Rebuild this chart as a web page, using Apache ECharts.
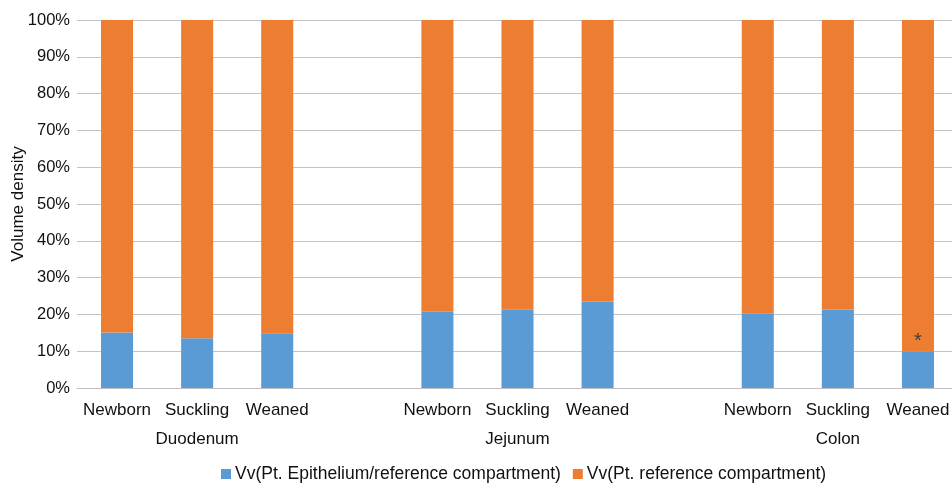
<!DOCTYPE html>
<html>
<head>
<meta charset="utf-8">
<script src="https://cdn.jsdelivr.net/npm/echarts@6/dist/echarts.min.js"></script>
<style>html,body{margin:0;padding:0;background:#fff}#c{width:952px;height:486px}</style>
</head>
<body>
<div id="c"></div>
<script>
var stages = ['Newborn', 'Suckling', 'Weaned'];
var groups = ['Duodenum', 'Jejunum', 'Colon'];
var epithelium = [15.1, 13.5, 14.9, 20.7, 21.4, 23.5, 20.3, 21.3, 10.0];
var reference = [84.9, 86.5, 85.1, 79.3, 78.6, 76.5, 79.7, 78.7, 90.0];
var marks = ['', '', '', '', '', '', '', '', '*'];
var seriesNames = ['Vv(Pt. Epithelium/reference compartment)', 'Vv(Pt. reference compartment)'];
var yTicks = [0, 10, 20, 30, 40, 50, 60, 70, 80, 90, 100];

// build slotted categories with a blank slot between groups
var cats = [], groupCats = [], epi = [], ref = [], mk = [];
groups.forEach(function (g, gi) {
  if (gi > 0) { cats.push(' ' + gi); groupCats.push(' ' + gi); epi.push('-'); ref.push('-'); mk.push(''); }
  stages.forEach(function (s, si) {
    var k = gi * stages.length + si;
    cats.push(s + '#' + gi);
    groupCats.push(si === 1 ? g : '#' + k);
    epi.push(epithelium[k]); ref.push(reference[k]); mk.push(marks[k]);
  });
});

var font = 'Liberation Sans, Arial, sans-serif';
var chart = echarts.init(document.getElementById('c'));
chart.setOption({
  animation: false,
  color: ['#5B9BD5', '#ED7D31'],
  textStyle: { fontFamily: font },
  grid: { left: 77, right: -6, top: 20, bottom: 98, containLabel: false, outerBoundsMode: 'none' },
  legend: {
    top: 460, left: 216, icon: 'rect', itemWidth: 10, itemHeight: 10, itemGap: 12,
    textStyle: { fontSize: 17.5, color: '#111', fontFamily: font, padding: [0, 0, 0, -1] },
    data: seriesNames
  },
  xAxis: [{
    type: 'category', data: cats, position: 'bottom',
    axisLine: { show: true, lineStyle: { color: '#bfbfbf', width: 1 } },
    axisTick: { show: false },
    axisLabel: { interval: 0, margin: 14, fontSize: 17, color: '#111', fontFamily: font,
      formatter: function (v) { return v.indexOf('#') >= 0 ? v.split('#')[0] : ''; } }
  }, {
    type: 'category', data: groupCats, position: 'bottom', offset: 29,
    axisLine: { show: false }, axisTick: { show: false },
    axisLabel: { interval: 0, margin: 14, fontSize: 17, color: '#111', fontFamily: font,
      formatter: function (v) { return (v.charAt(0) === '#' || v.charAt(0) === ' ') ? '' : v; } }
  }],
  yAxis: {
    type: 'value', min: yTicks[0], max: yTicks[yTicks.length - 1], interval: 10,
    name: 'Volume density', nameLocation: 'middle', nameRotate: 90, nameGap: 50, nameMoveOverlap: false,
    nameTextStyle: { fontSize: 17, color: '#111', fontFamily: font },
    axisLine: { show: false }, axisTick: { show: false },
    axisLabel: { fontSize: 16.5, color: '#111', margin: 7, formatter: '{value}%', fontFamily: font },
    splitLine: { lineStyle: { color: '#c4c4c4', width: 1 } }
  },
  series: [{
    name: seriesNames[0], type: 'bar', stack: 'v', data: epi, barWidth: '40%',
    itemStyle: { color: '#5B9BD5' },
    label: { show: true, position: 'top', distance: 0, fontSize: 20, color: '#404040',
      formatter: function (p) { return mk[p.dataIndex]; } }
  }, {
    name: seriesNames[1], type: 'bar', stack: 'v', data: ref, barWidth: '40%',
    itemStyle: { color: '#ED7D31' }
  }]
});
</script>
</body>
</html>
